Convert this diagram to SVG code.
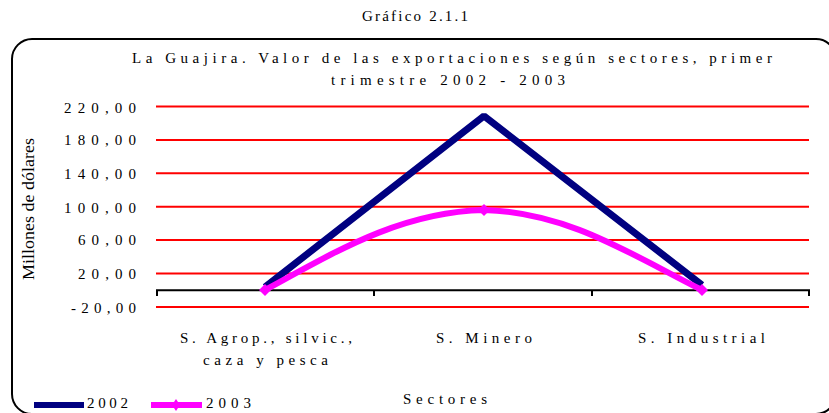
<svg xmlns="http://www.w3.org/2000/svg" width="829" height="413" viewBox="0 0 829 413">
<style>
.t{font-family:"Liberation Serif","Times New Roman",serif;font-size:15px;fill:#000}
.grid{stroke:#ff0000;stroke-width:2}
.axis{stroke:#000;stroke-width:2;fill:none}
</style>
<defs>
<polygon id="dia" points="0,-6 6,0 0,6 -6,0" fill="#ff00ff"/>
</defs>
<rect width="829" height="413" fill="#fff"/>
<g id="frame"><rect x="12" y="39" width="824" height="375" rx="20" ry="20" fill="none" stroke="#000" stroke-width="2"/></g>
<g id="titles">
<text class="t" x="362" y="21" textLength="106" lengthAdjust="spacing">Gráfico 2.1.1</text>
<text class="t" x="132" y="63" textLength="640" lengthAdjust="spacing">La Guajira. Valor de las exportaciones según sectores, primer</text>
<text class="t" x="331" y="85" textLength="234" lengthAdjust="spacing">trimestre 2002 - 2003</text>
</g>
<g id="gridlines">
<line class="grid" x1="156" y1="106.5" x2="809" y2="106.5"/>
<line class="grid" x1="156" y1="139.9" x2="809" y2="139.9"/>
<line class="grid" x1="156" y1="173.3" x2="809" y2="173.3"/>
<line class="grid" x1="156" y1="206.7" x2="809" y2="206.7"/>
<line class="grid" x1="156" y1="240.1" x2="809" y2="240.1"/>
<line class="grid" x1="156" y1="273.5" x2="809" y2="273.5"/>
<line class="grid" x1="156" y1="307" x2="809" y2="307"/>
</g>
<g id="xaxis">
<path class="axis" d="M157,296 V290.2 H809 V296 M374,290.2 V296 M592,290.2 V296"/>
</g>
<g id="ylabels">
<text class="t" x="64" y="113" textLength="72" lengthAdjust="spacing">220,00</text>
<text class="t" x="64" y="145" textLength="72" lengthAdjust="spacing">180,00</text>
<text class="t" x="64" y="178.5" textLength="72" lengthAdjust="spacing">140,00</text>
<text class="t" x="64" y="212.5" textLength="72" lengthAdjust="spacing">100,00</text>
<text class="t" x="78" y="245" textLength="58" lengthAdjust="spacing">60,00</text>
<text class="t" x="78" y="278.5" textLength="58" lengthAdjust="spacing">20,00</text>
<text class="t" x="71" y="312.5" textLength="65" lengthAdjust="spacing">-20,00</text>
<text x="0" y="0" transform="translate(34,209) rotate(-90)" text-anchor="middle" font-family="Liberation Serif, Times New Roman, serif" font-size="16" textLength="142" lengthAdjust="spacingAndGlyphs">Millones de dólares</text>
</g>
<g id="xlabels">
<text class="t" x="180" y="343" textLength="172" lengthAdjust="spacing">S. Agrop., silvic.,</text>
<text class="t" x="203" y="365" textLength="125" lengthAdjust="spacing">caza y pesca</text>
<text class="t" x="436" y="343" textLength="96" lengthAdjust="spacing">S. Minero</text>
<text class="t" x="638" y="343" textLength="127" lengthAdjust="spacing">S. Industrial</text>
<text class="t" x="403" y="404" textLength="84" lengthAdjust="spacing">Sectores</text>
</g>
<g id="series">
<g id="s2002"><polyline points="265,287 484,116 702,285" fill="none" stroke="#000080" stroke-width="7" stroke-linejoin="bevel"/></g>
<g id="s2003">
<path d="M265,290 C335,252 400,212 484,210 C568,212 632,255 702,290" fill="none" stroke="#ff00ff" stroke-width="6" stroke-linejoin="round"/>
<use href="#dia" x="265" y="290"/>
<use href="#dia" x="484" y="210"/>
<use href="#dia" x="702" y="290"/>
</g>
</g>
<g id="legend">
<rect x="34" y="402" width="50" height="6" fill="#000080"/>
<text class="t" x="87" y="408" textLength="41" lengthAdjust="spacing">2002</text>
<rect x="151" y="402" width="51" height="6" fill="#ff00ff"/>
<polygon points="176,399 180,405 176,411 172,405" fill="#ff00ff"/>
<text class="t" x="206" y="408" textLength="45" lengthAdjust="spacing">2003</text>
</g>
</svg>
